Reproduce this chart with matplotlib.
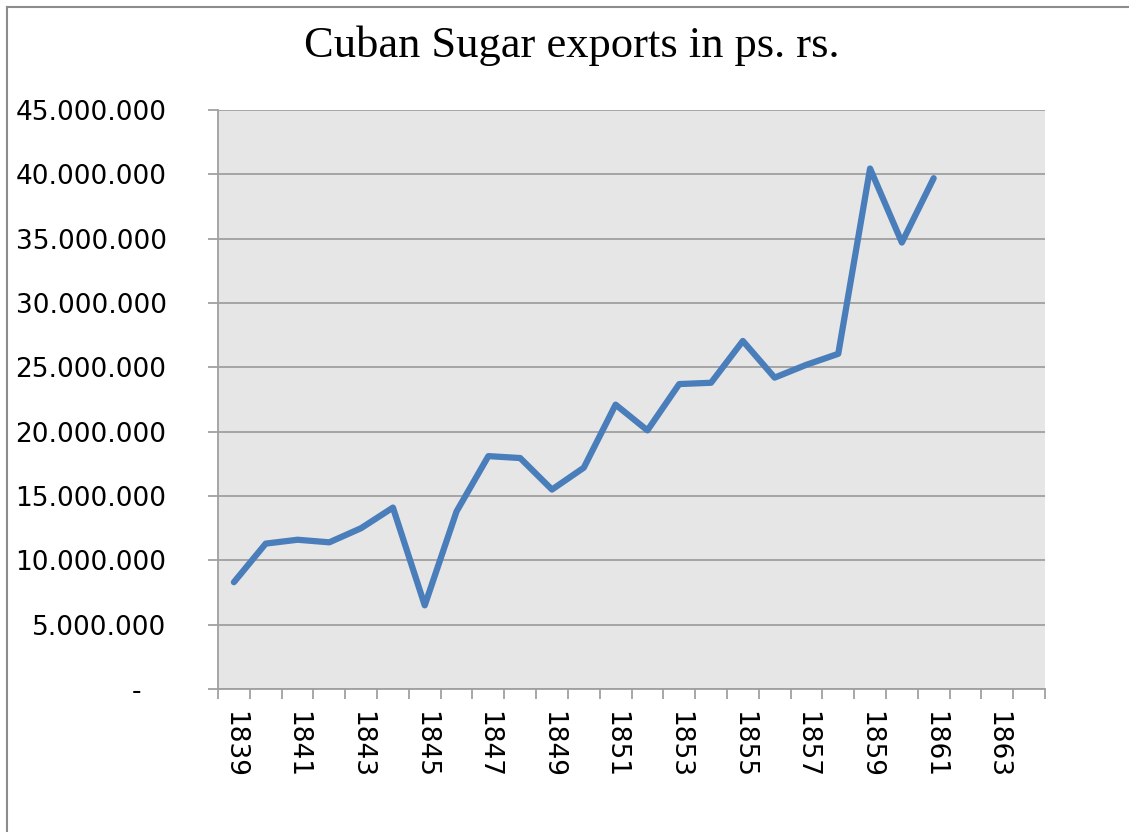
import matplotlib
matplotlib.use("Agg")
import matplotlib.pyplot as plt
from matplotlib.lines import Line2D
from matplotlib.ticker import FixedLocator, FuncFormatter

years = list(range(1839, 1865))
values_m = [8.3, 11.3, 11.6, 11.4, 12.5, 14.1, 6.5, 13.8, 18.1, 17.95, 15.5, 17.2,
            22.1, 20.1, 23.7, 23.8, 27.05, 24.2, 25.2, 26.05, 40.45, 34.7, 39.7]
title = "Cuban Sugar exports in ps. rs."
y_ticks = [0, 5e6, 10e6, 15e6, 20e6, 25e6, 30e6, 35e6, 40e6, 45e6]

W, H = 1129, 832
fig = plt.figure(figsize=(W / 100, H / 100), dpi=100)
fig.patch.set_facecolor("white")
ax = fig.add_axes([218 / W, 1 - 689 / H, (1045 - 218) / W, (689 - 110) / H])
ax.set_facecolor("#e6e6e6")

xs = list(range(len(values_m)))
ax.plot(xs, [v * 1e6 for v in values_m], color="#4a7ebb", lw=4.5,
        solid_joinstyle="round", solid_capstyle="round", zorder=3)

ax.set_xlim(-0.5, len(years) - 0.5)
ax.set_ylim(0, 45e6)

def yfmt(v, pos):
    if v == 0:
        return "-   "
    return f"{int(round(v)):,}".replace(",", ".")

ax.yaxis.set_major_locator(FixedLocator(y_ticks))
ax.yaxis.set_major_formatter(FuncFormatter(yfmt))
ax.grid(axis="y", color="#a0a0a0", lw=1.3, zorder=1)
ax.set_axisbelow(True)

label_idx = list(range(0, len(years), 2))
ax.set_xticks(label_idx)
ax.set_xticklabels([str(years[i]) for i in label_idx], rotation=270,
                   fontsize=19, va="top", ha="center")
ax.set_xticks([i - 0.5 for i in range(len(years) + 1)], minor=True)
ax.tick_params(axis="x", which="major", length=0, pad=16)
ax.tick_params(axis="x", which="minor", length=7, color="#a0a0a0", width=1.3)
ax.tick_params(axis="y", length=7, color="#a0a0a0", width=1.3, labelsize=19, pad=30)
for lab in ax.get_yticklabels():
    lab.set_horizontalalignment("right")

for s in ["top", "right"]:
    ax.spines[s].set_visible(False)
ax.spines["left"].set_color("#a0a0a0")
ax.spines["left"].set_linewidth(1.3)
ax.spines["bottom"].set_color("#a0a0a0")
ax.spines["bottom"].set_linewidth(1.3)

fig.text(572 / W, 1 - 46 / H, title, fontsize=32, family="Liberation Serif",
         ha="center", va="center")

# outer chart border
fig.add_artist(Line2D([7 / W, 7 / W], [0, 1 - 7 / H], color="#8c8c8c", lw=1.5,
                      transform=fig.transFigure))
fig.add_artist(Line2D([7 / W, 1], [1 - 7 / H, 1 - 7 / H], color="#8c8c8c", lw=1.5,
                      transform=fig.transFigure))

fig.savefig("out.png", dpi=100)
